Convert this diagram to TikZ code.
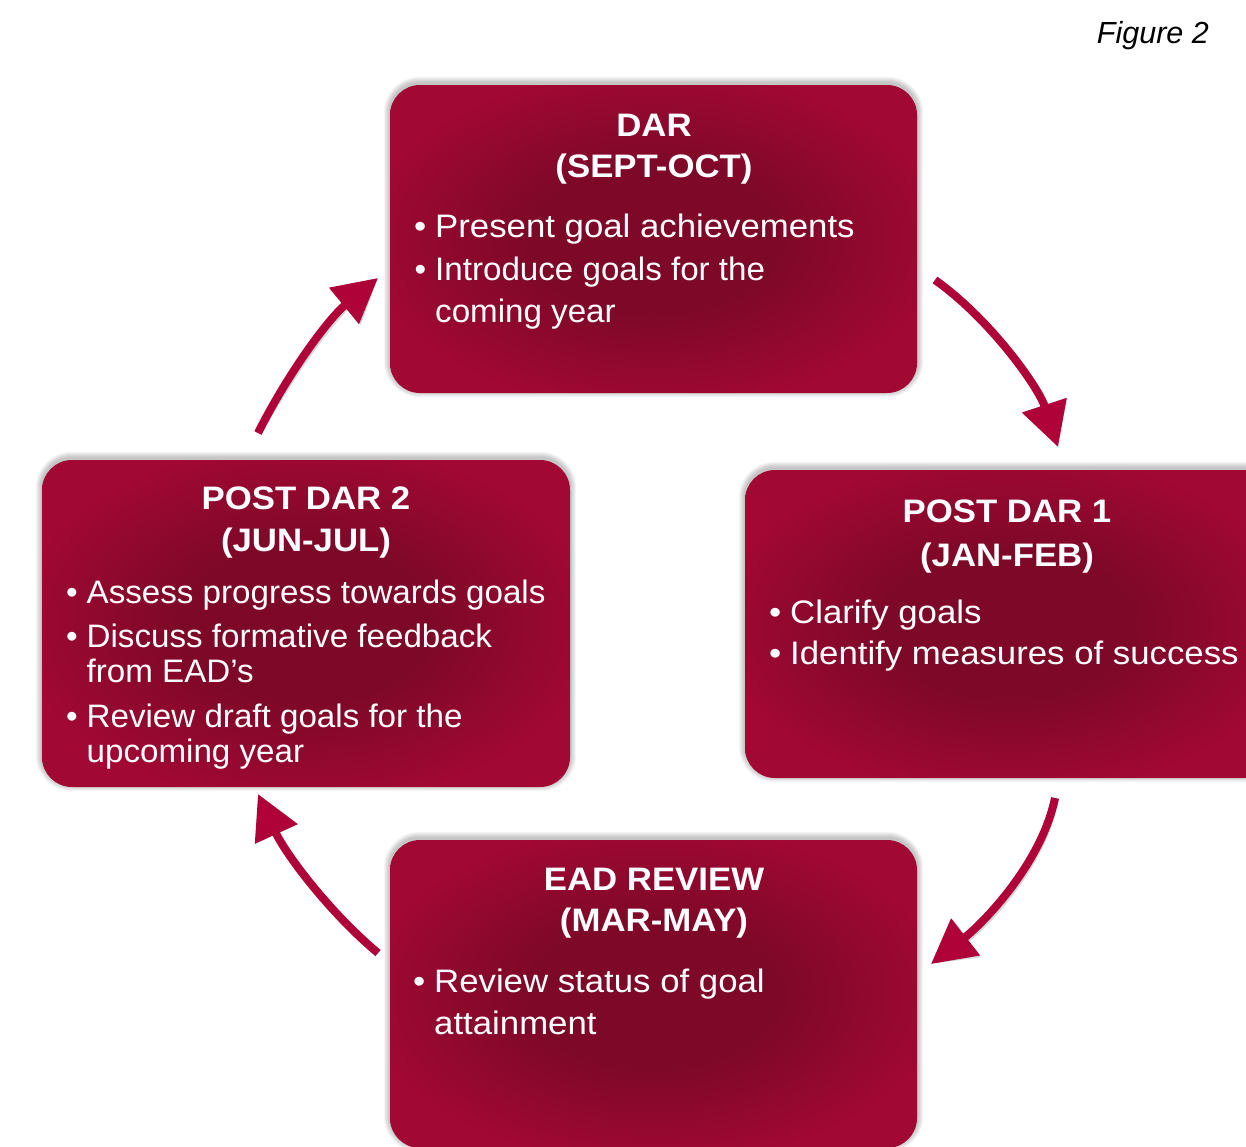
\documentclass[tikz,border=0pt]{standalone}
\usepackage{fontspec}
\setmainfont{Liberation Sans}[FakeStretch=1.07]
\newfontfamily\narrowfont{Liberation Sans}[FakeStretch=1.02]
\newfontfamily\captionfont{Liberation Sans}
\usetikzlibrary{arrows.meta,calc}

\definecolor{boxedge}{RGB}{162,8,52}
\definecolor{boxcore}{RGB}{126,8,40}
\definecolor{arrowred}{RGB}{174,2,56}

\pgfdeclareradialshading{boxglow}{\pgfpoint{0bp}{0bp}}{%
  color(0bp)=(boxcore); color(12bp)=(boxcore); color(28bp)=(boxedge); color(50bp)=(boxedge)}

\pgfdeclarelayer{background}
\pgfsetlayers{background,main}

% bullet hung to the left of an item
\newcommand{\itembullet}{\llap{\textbullet\hspace{9pt}}}

\tikzset{
  phase/.style={shading=boxglow, rounded corners=30pt, inner sep=0pt, draw=none},
  txt/.style={text=white, inner sep=0pt},
  ttl/.style={txt, anchor=base, font=\fontsize{32.5}{36}\selectfont\bfseries},
  itm/.style={txt, anchor=base west, font=\fontsize{32.5}{36}\selectfont},
  itmn/.style={txt, anchor=base west, font=\narrowfont\fontsize{32.5}{36}\selectfont},
  cyc/.style={line width=8pt, draw=arrowred, -{Triangle[length=44pt,width=45pt]}},
  cycshade/.style={line width=8pt, draw=black, opacity=0.16, -{Triangle[length=44pt,width=45pt]}},
}

\begin{document}
\begin{tikzpicture}[x=1pt,y=-1pt]
\path[use as bounding box] (0,0) rectangle (1246,1146);
\clip (0,0) rectangle (1246,1146);

% the four phases of the cycle
\node[phase, minimum width=527pt, minimum height=308pt] (dar) at (653.5,239) {};
\node[phase, minimum width=528pt, minimum height=308pt] (pd1) at (1009,624) {};
\node[phase, minimum width=528pt, minimum height=327pt] (pd2) at (306,623.5) {};
\node[phase, minimum width=527pt, minimum height=308pt] (ead) at (653.5,994) {};

% soft shadows behind the boxes
\begin{pgfonlayer}{background}
  \fill[white] (0,0) rectangle (1246,1146);
  \clip (0,0) rectangle (1246,1146);
  \foreach \b in {dar,pd1,pd2,ead}{
    \foreach \i in {1,...,6}{
      \pgfmathsetmacro\rr{30+\i}
      \fill[black, opacity=0.04, rounded corners=\rr pt]
        ($(\b.north west)+(-\i,-\i-2)$) rectangle ($(\b.south east)+(\i,\i-2)$);
    }
  }
\end{pgfonlayer}

% DAR
\node[ttl] (darA) at (654,136) {DAR};
\node[ttl] (darB) at (654,177) {(SEPT-OCT)};
\node[itm] (darC) at (435,237) {\itembullet Present goal achievements};
\node[itmn] (darD) at (435,280) {\itembullet Introduce goals for the};
\node[itmn] (darE) at (435,322) {coming year};

% POST DAR 1
\node[ttl] (pdoA) at (1007,522) {POST DAR 1};
\node[ttl] (pdoB) at (1007,566) {(JAN-FEB)};
\node[itm] (pdoC) at (790,623) {\itembullet Clarify goals};
\node[itm] (pdoD) at (790,664) {\itembullet Identify measures of success};

% POST DAR 2
\node[ttl] (pdtA) at (306,509) {POST DAR 2};
\node[ttl] (pdtB) at (306,551) {(JUN-JUL)};
\node[itmn] (pdtC) at (86.5,603) {\itembullet Assess progress towards goals};
\node[itmn] (pdtD) at (86.5,647) {\itembullet Discuss formative feedback};
\node[itmn] (pdtE) at (86.5,682) {from EAD’s};
\node[itmn] (pdtF) at (86.5,727) {\itembullet Review draft goals for the};
\node[itmn] (pdtG) at (86.5,762) {upcoming year};

% EAD REVIEW
\node[ttl] (eadA) at (654,890) {EAD REVIEW};
\node[ttl] (eadB) at (654,931) {(MAR-MAY)};
\node[itm] (eadC) at (434,992) {\itembullet Review status of goal};
\node[itm] (eadD) at (434,1034) {attainment};

% caption
\node[anchor=base east, inner sep=0pt, font=\captionfont\itshape\fontsize{30.5}{34}\selectfont] (fig) at (1209,43) {Figure 2};

% arrow end points
\coordinate (s1) at (935,280);  \coordinate (e1) at (1058,447);
\coordinate (s2) at (1055,798); \coordinate (e2) at (931,964);
\coordinate (s3) at (378,953);  \coordinate (e3) at (258,794);
\coordinate (s4) at (258,433);  \coordinate (e4) at (378,278);

% arrow shadows
\begin{scope}[shift={(1.5,2)}]
  \draw[cycshade] (s1) .. controls (989,318) and (1038,386) .. (e1);
  \draw[cycshade] (s2) .. controls (1041,865) and (982,924) .. (e2);
  \draw[cycshade] (s3) .. controls (328,911) and (285,853) .. (e3);
  \draw[cycshade] (s4) .. controls (287,375) and (328,319) .. (e4);
\end{scope}

% cycle arrows
\draw[cyc] (s1) .. controls (989,318) and (1038,386) .. (e1);
\draw[cyc] (s2) .. controls (1041,865) and (982,924) .. (e2);
\draw[cyc] (s3) .. controls (328,911) and (285,853) .. (e3);
\draw[cyc] (s4) .. controls (287,375) and (328,319) .. (e4);
\end{tikzpicture}
\end{document}
